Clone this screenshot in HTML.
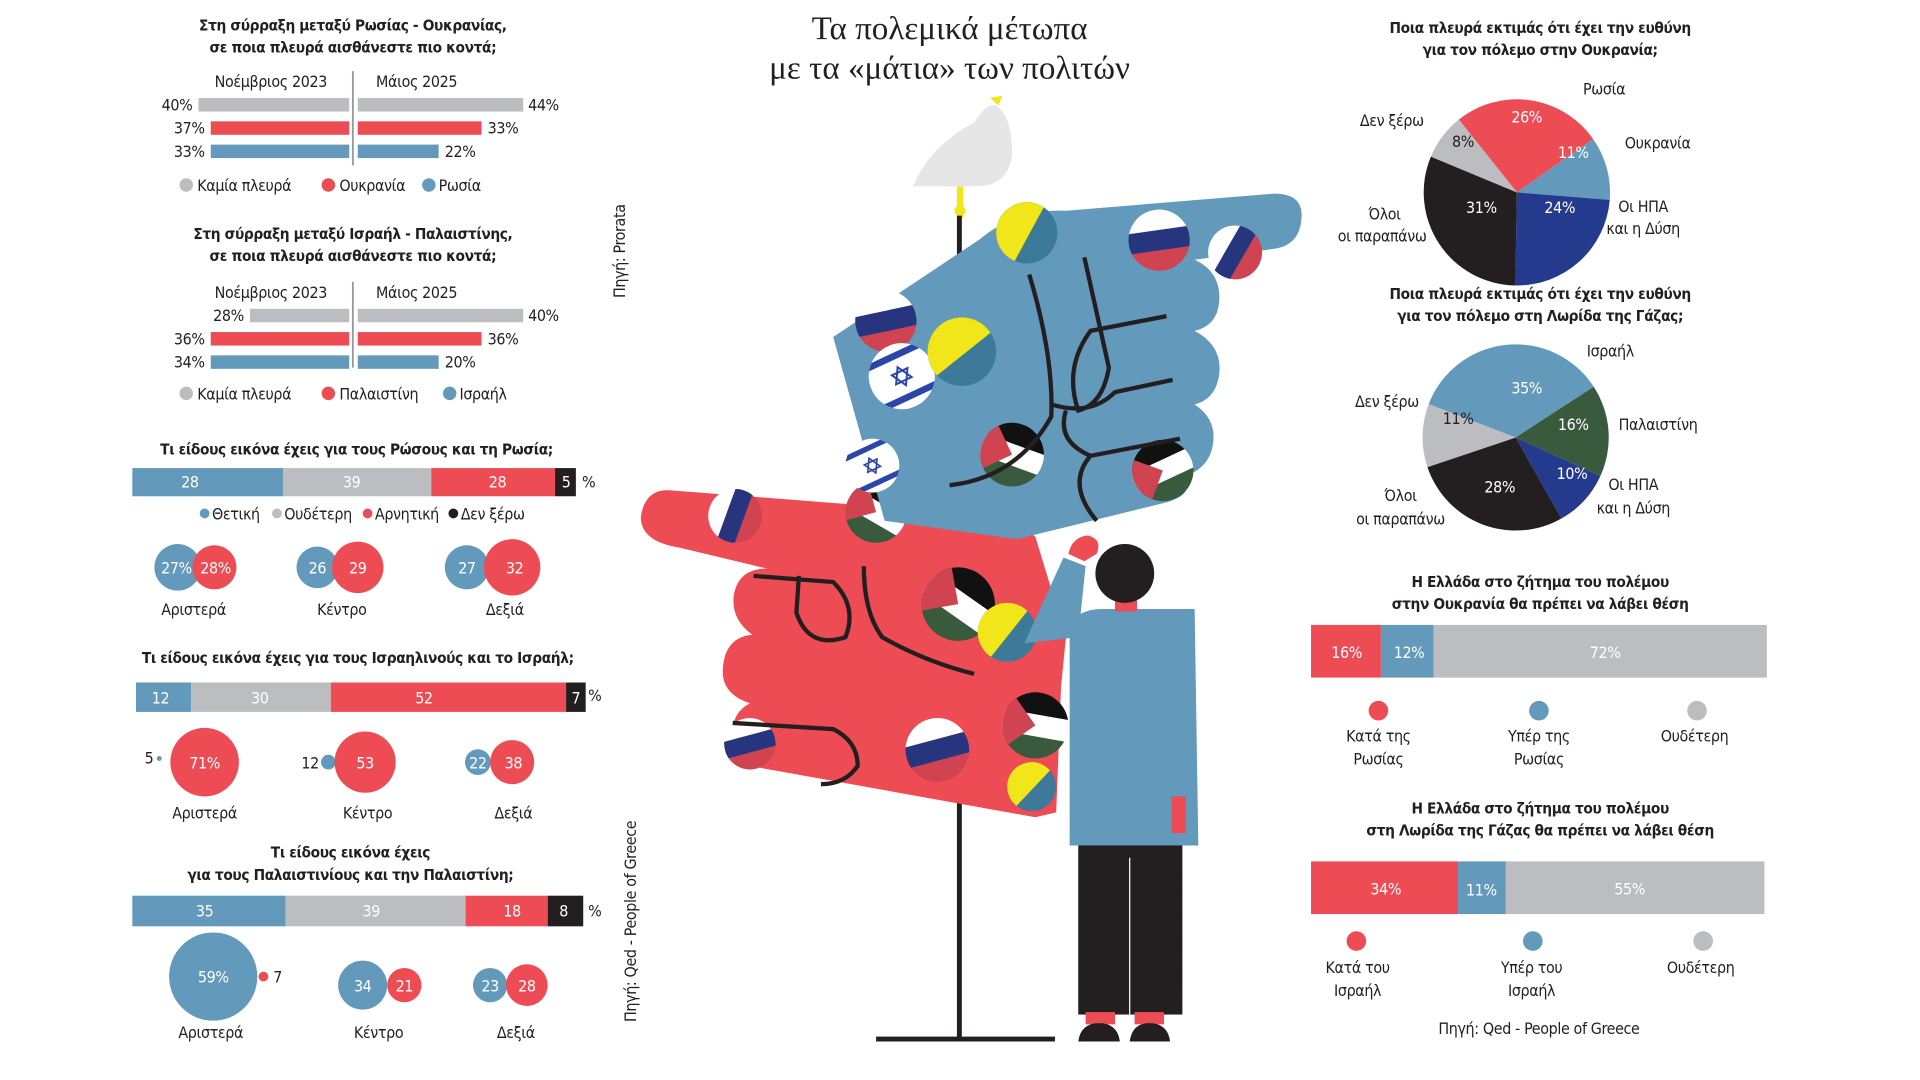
<!DOCTYPE html>
<html><head><meta charset="utf-8"><style>
html,body{margin:0;padding:0;background:#fff;width:1920px;height:1080px;overflow:hidden}
svg{display:block}
text{font-family:"Liberation Sans Narrow","DejaVu Sans Condensed","Liberation Sans",sans-serif;fill:#231f20}
.t{font-weight:bold;font-size:12.5px;text-anchor:middle;letter-spacing:-0.3px}
.l{font-size:13px;letter-spacing:-0.3px}
.c{text-anchor:middle}
.e{text-anchor:end}
.w{fill:#fff;font-size:13px;text-anchor:middle;letter-spacing:-0.3px}
</style></head><body>
<svg width="1920" height="1080" viewBox="0 0 1567 881.4" xmlns="http://www.w3.org/2000/svg">
<defs>
<clipPath id="cc" clipPathUnits="userSpaceOnUse"><circle cx="0" cy="0" r="1"/></clipPath>
<g id="ua"><rect x="-1" y="-1" width="2" height="2" fill="#3d7a99"/><polygon points="-1,0.4 1,-0.6 1,1 -1,1" fill="#f0e61a" transform="rotate(180)"/></g>
<g id="ru"><rect x="-1" y="-1" width="2" height="0.67" fill="#fff"/><rect x="-1" y="-0.33" width="2" height="0.67" fill="#27357e"/><rect x="-1" y="0.33" width="2" height="0.7" fill="#cf4450"/></g>
<g id="ps"><rect x="-1" y="-1" width="2" height="0.67" fill="#111"/><rect x="-1" y="-0.33" width="2" height="0.67" fill="#fff"/><rect x="-1" y="0.33" width="2" height="0.7" fill="#3a5a3e"/><polygon points="-1,-1 0,0 -1,1" fill="#cf4450"/></g>
<g id="il"><rect x="-1" y="-1" width="2" height="2" fill="#fff"/><rect x="-1" y="-0.75" width="2" height="0.2" fill="#2b45a8"/><rect x="-1" y="0.55" width="2" height="0.2" fill="#2b45a8"/><polygon points="0,-0.3 0.26,0.15 -0.26,0.15" fill="none" stroke="#2b45a8" stroke-width="0.06"/><polygon points="0,0.3 0.26,-0.15 -0.26,-0.15" fill="none" stroke="#2b45a8" stroke-width="0.06"/></g>
</defs>

<!-- LEFT COLUMN -->
<text class="t" x="288" y="25">Στη σύρραξη μεταξύ Ρωσίας - Ουκρανίας,</text>
<text class="t" x="288" y="43">σε ποια πλευρά αισθάνεστε πιο κοντά;</text>
<text class="l c" x="221" y="71">Νοέμβριος 2023</text><text class="l c" x="340" y="71">Μάιος 2025</text>
<line x1="288" y1="58" x2="288" y2="135" stroke="#999" stroke-width="1.5"/>
<rect x="162" y="80" width="123" height="11" fill="#bcbdc1"/><rect x="292" y="80" width="135" height="11" fill="#bcbdc1"/>
<rect x="172" y="99" width="113" height="11" fill="#ee4c55"/><rect x="292" y="99" width="101" height="11" fill="#ee4c55"/>
<rect x="172" y="118" width="113" height="11" fill="#6399bb"/><rect x="292" y="118" width="66" height="11" fill="#6399bb"/>
<text class="l e" x="157" y="90">40%</text><text class="l" x="431" y="90">44%</text>
<text class="l e" x="167" y="109">37%</text><text class="l" x="398" y="109">33%</text>
<text class="l e" x="167" y="128">33%</text><text class="l" x="363" y="128">22%</text>
<circle cx="152" cy="151" r="5.5" fill="#bcbdc1"/><text class="l" x="161" y="156">Καμία πλευρά</text>
<circle cx="268" cy="151" r="5.5" fill="#ee4c55"/><text class="l" x="277" y="156">Ουκρανία</text>
<circle cx="350" cy="151" r="5.5" fill="#6399bb"/><text class="l" x="358" y="156">Ρωσία</text>

<text class="t" x="288" y="195">Στη σύρραξη μεταξύ Ισραήλ - Παλαιστίνης,</text>
<text class="t" x="288" y="213">σε ποια πλευρά αισθάνεστε πιο κοντά;</text>
<text class="l c" x="221" y="243">Νοέμβριος 2023</text><text class="l c" x="340" y="243">Μάιος 2025</text>
<line x1="288" y1="230" x2="288" y2="300" stroke="#999" stroke-width="1.5"/>
<rect x="204" y="252" width="81" height="11" fill="#bcbdc1"/><rect x="292" y="252" width="135" height="11" fill="#bcbdc1"/>
<rect x="172" y="271" width="113" height="11" fill="#ee4c55"/><rect x="292" y="271" width="101" height="11" fill="#ee4c55"/>
<rect x="172" y="290" width="113" height="11" fill="#6399bb"/><rect x="292" y="290" width="66" height="11" fill="#6399bb"/>
<text class="l e" x="199" y="262">28%</text><text class="l" x="431" y="262">40%</text>
<text class="l e" x="167" y="281">36%</text><text class="l" x="398" y="281">36%</text>
<text class="l e" x="167" y="300">34%</text><text class="l" x="363" y="300">20%</text>
<circle cx="152" cy="321" r="5.5" fill="#bcbdc1"/><text class="l" x="161" y="326">Καμία πλευρά</text>
<circle cx="268" cy="321" r="5.5" fill="#ee4c55"/><text class="l" x="277" y="326">Παλαιστίνη</text>
<circle cx="367" cy="321" r="5.5" fill="#6399bb"/><text class="l" x="375" y="326">Ισραήλ</text>

<text class="t" x="291" y="371">Τι είδους εικόνα έχεις για τους Ρώσους και τη Ρωσία;</text>
<rect x="108" y="382" width="123" height="23" fill="#6399bb"/><rect x="231" y="382" width="121" height="23" fill="#bcbdc1"/><rect x="352" y="382" width="101" height="23" fill="#ee4c55"/><rect x="453" y="382" width="17" height="23" fill="#231f20"/>
<text class="w" x="155" y="398">28</text><text class="w" x="287" y="398">39</text><text class="w" x="406" y="398">28</text><text class="w" x="462" y="398">5</text><text class="l" x="475" y="398">%</text>
<circle cx="167" cy="419" r="4" fill="#6399bb"/><text class="l" x="173" y="424">Θετική</text>
<circle cx="226" cy="419" r="4" fill="#bcbdc1"/><text class="l" x="232" y="424">Ουδέτερη</text>
<circle cx="300" cy="419" r="4" fill="#ee4c55"/><text class="l" x="306" y="424">Αρνητική</text>
<circle cx="370" cy="419" r="4" fill="#231f20"/><text class="l" x="376" y="424">Δεν ξέρω</text>
<circle cx="145" cy="463" r="19" fill="#6399bb"/><circle cx="175" cy="463" r="18" fill="#ee4c55"/>
<text class="w" x="144" y="468">27%</text><text class="w" x="176" y="468">28%</text>
<circle cx="259" cy="463" r="17" fill="#6399bb"/><circle cx="292" cy="463" r="21" fill="#ee4c55"/>
<text class="w" x="259" y="468">26</text><text class="w" x="292" y="468">29</text>
<circle cx="381" cy="463" r="18" fill="#6399bb"/><circle cx="418" cy="463" r="23" fill="#ee4c55"/>
<text class="w" x="381" y="468">27</text><text class="w" x="420" y="468">32</text>
<text class="l c" x="158" y="502">Αριστερά</text><text class="l c" x="279" y="502">Κέντρο</text><text class="l c" x="412" y="502">Δεξιά</text>

<text class="t" x="292" y="541">Τι είδους εικόνα έχεις για τους Ισραηλινούς και το Ισραήλ;</text>
<rect x="111" y="557" width="45" height="24" fill="#6399bb"/><rect x="156" y="557" width="114" height="24" fill="#bcbdc1"/><rect x="270" y="557" width="192" height="24" fill="#ee4c55"/><rect x="462" y="557" width="16" height="24" fill="#231f20"/>
<text class="w" x="131" y="574">12</text><text class="w" x="212" y="574">30</text><text class="w" x="346" y="574">52</text><text class="w" x="470" y="574">7</text><text class="l" x="480" y="572">%</text>
<text class="l" x="118" y="623">5</text><circle cx="130" cy="619" r="2" fill="#6399bb"/>
<circle cx="167" cy="622" r="28" fill="#ee4c55"/><text class="w" x="167" y="627">71%</text>
<text class="l" x="246" y="627">12</text><circle cx="268" cy="622" r="6" fill="#6399bb"/>
<circle cx="298" cy="622" r="25" fill="#ee4c55"/><text class="w" x="298" y="627">53</text>
<circle cx="390" cy="622" r="10.5" fill="#6399bb"/><circle cx="418" cy="622" r="18" fill="#ee4c55"/>
<text class="w" x="390" y="627">22</text><text class="w" x="419" y="627">38</text>
<text class="l c" x="167" y="668">Αριστερά</text><text class="l c" x="300" y="668">Κέντρο</text><text class="l c" x="419" y="668">Δεξιά</text>

<text class="t" x="286" y="700">Τι είδους εικόνα έχεις</text>
<text class="t" x="286" y="718">για τους Παλαιστινίους και την Παλαιστίνη;</text>
<rect x="108" y="731" width="125" height="25" fill="#6399bb"/><rect x="233" y="731" width="147" height="25" fill="#bcbdc1"/><rect x="380" y="731" width="67" height="25" fill="#ee4c55"/><rect x="447" y="731" width="29" height="25" fill="#231f20"/>
<text class="w" x="167" y="748">35</text><text class="w" x="303" y="748">39</text><text class="w" x="418" y="748">18</text><text class="w" x="460" y="748">8</text><text class="l" x="480" y="748">%</text>
<circle cx="174" cy="797" r="36" fill="#6399bb"/><text class="w" x="174" y="802">59%</text>
<circle cx="215" cy="797" r="4" fill="#ee4c55"/><text class="l" x="223" y="802">7</text>
<circle cx="296" cy="804" r="20" fill="#6399bb"/><circle cx="330" cy="804" r="14" fill="#ee4c55"/>
<text class="w" x="296" y="809">34</text><text class="w" x="330" y="809">21</text>
<circle cx="400" cy="804" r="14" fill="#6399bb"/><circle cx="430" cy="804" r="17" fill="#ee4c55"/>
<text class="w" x="400" y="809">23</text><text class="w" x="430" y="809">28</text>
<text class="l c" x="172" y="847">Αριστερά</text><text class="l c" x="309" y="847">Κέντρο</text><text class="l c" x="421" y="847">Δεξιά</text>

<text class="l c" transform="translate(510,205) rotate(-90)">Πηγή: Prorata</text>
<text class="l c" transform="translate(519,752) rotate(-90)">Πηγή: Qed - People of Greece</text>

<!-- MIDDLE TITLE -->
<text x="775" y="32" style="font-family:'Liberation Serif','DejaVu Serif',serif;font-size:27px;text-anchor:middle">Τα πολεμικά μέτωπα</text>
<text x="775" y="64" style="font-family:'Liberation Serif','DejaVu Serif',serif;font-size:27px;text-anchor:middle">με τα «μάτια» των πολιτών</text>

<!-- ILLUSTRATION -->
<path d="M745,152 Q760,118 795,100 Q805,84 813,86 Q826,95 826,125 Q824,150 800,152 Z" fill="#e6e6e6"/>
<polygon points="808,80 818,78 815,86" fill="#f0e61a"/>
<rect x="781" y="152" width="5" height="26" fill="#f0e61a"/><circle cx="783.5" cy="172" r="4.5" fill="#f0e61a"/>
<rect x="781" y="176" width="4" height="672" fill="#231f20"/>
<rect x="715" y="846" width="146" height="4" fill="#231f20"/>

<path d="M545,400 L700,412 L790,396 L845,438 L870,520 L866,560 L862,663 L845,667 L628,628 Q600,624 598,603 Q596,582 612,574 Q588,566 590,545 Q592,520 614,518 Q596,505 599,485 Q603,464 626,464 L555,447 Q523,442 523,422 Q526,400 545,400 Z" fill="#ee4c55"/>
<g clip-path="url(#cc)" transform="translate(600,421) scale(22) rotate(-70)"><use href="#ru"/></g>
<g clip-path="url(#cc)" transform="translate(715,418) scale(25) rotate(30)"><use href="#ps"/></g>
<g clip-path="url(#cc)" transform="translate(782,493) scale(30) rotate(35)"><use href="#ps"/></g>
<g clip-path="url(#cc)" transform="translate(822,516) scale(24) rotate(-25)"><use href="#ua"/></g>
<g clip-path="url(#cc)" transform="translate(845,592) scale(27) rotate(10)"><use href="#ps"/></g>
<g clip-path="url(#cc)" transform="translate(612,607) scale(21) rotate(-15)"><use href="#ru"/></g>
<g clip-path="url(#cc)" transform="translate(765,612) scale(26) rotate(-15)"><use href="#ru"/></g>
<g clip-path="url(#cc)" transform="translate(842,642) scale(20) rotate(-20)"><use href="#ua"/></g>
<g fill="none" stroke="#231f20" stroke-width="3.5">
<path d="M615,470 L680,475 Q700,495 690,520 Q660,530 650,500 L652,470"/>
<path d="M705,462 Q705,500 720,520 Q755,540 795,550"/>
<path d="M598,590 L680,595 Q700,605 700,625 Q690,640 670,640"/>
</g>

<path d="M680,275 L800,195 Q830,170 870,172 L1040,158 Q1065,158 1062,180 Q1060,200 1040,203 L975,212 Q997,222 995,247 Q993,266 975,270 Q998,282 995,306 Q992,326 975,330 Q993,342 990,362 Q987,384 962,390 Q978,402 952,410 L830,440 L722,425 Z" fill="#6399bb"/>
<g clip-path="url(#cc)" transform="translate(838,190) scale(25) rotate(-35)"><use href="#ua"/></g>
<g clip-path="url(#cc)" transform="translate(946,196) scale(25) rotate(-8)"><use href="#ru"/></g>
<g clip-path="url(#cc)" transform="translate(1008,206) scale(22) rotate(-60)"><use href="#ru"/></g>
<g clip-path="url(#cc)" transform="translate(723,262) scale(25) rotate(-12)"><use href="#ru"/></g>
<g clip-path="url(#cc)" transform="translate(736,307) scale(27) rotate(-25)"><use href="#il"/></g>
<g clip-path="url(#cc)" transform="translate(785,287) scale(28) rotate(-12)"><use href="#ua"/></g>
<g clip-path="url(#cc)" transform="translate(826,371) scale(26) rotate(20)"><use href="#ps"/></g>
<g clip-path="url(#cc)" transform="translate(949,384) scale(25) rotate(-25)"><use href="#ps"/></g>
<g clip-path="url(#cc)" transform="translate(712,380) scale(22) rotate(-25)"><use href="#il"/></g>
<g fill="none" stroke="#231f20" stroke-width="3.5">
<path d="M840,224 Q860,290 858,340 Q830,390 775,396"/>
<path d="M885,210 L905,300 Q900,330 880,335 Q868,300 890,270 L952,258"/>
<path d="M858,330 Q890,340 910,320 L957,310"/>
<path d="M870,335 Q862,360 890,372 L963,358"/>
<path d="M890,372 Q870,395 895,425"/>
</g>

<path d="M873,510 Q880,497 900,497 L975,497 L978,690 L873,690 Z" fill="#6399bb"/>
<polygon points="836,525 868,455 886,462 880,520" fill="#6399bb"/>
<path d="M872,452 Q875,438 888,437 Q900,440 895,452 L885,458 Z" fill="#ee4c55"/>
<rect x="910" y="485" width="18" height="14" fill="#ee4c55"/>
<circle cx="918" cy="468" r="24" fill="#231f20"/>
<rect x="956" y="650" width="12" height="30" fill="#ee4c55"/>
<rect x="880" y="690" width="85" height="138" fill="#231f20"/>
<line x1="922" y1="700" x2="922" y2="828" stroke="#fff" stroke-width="1"/>
<rect x="886" y="826" width="24" height="10" fill="#ee4c55"/><rect x="926" y="826" width="24" height="10" fill="#ee4c55"/>
<path d="M880,850 Q882,835 897,835 Q912,835 914,850 Z" fill="#231f20"/>
<path d="M922,850 Q924,835 938,835 Q953,835 955,850 Z" fill="#231f20"/>
<text transform="translate(960,760) rotate(90)" style="font-size:6px" text-anchor="middle">INFOGRAPHIC: ΦΙΛΙΠΠΟΣ ΑΒΡΑΜΙΔΗΣ</text>

<!-- RIGHT COLUMN -->
<text class="t" x="1257" y="27">Ποια πλευρά εκτιμάς ότι έχει την ευθύνη</text>
<text class="t" x="1257" y="45">για τον πόλεμο στην Ουκρανία;</text>
<path d="M1238,157 L1190.6,97.6 A76,76 0 0 1 1300.2,113.4 Z" fill="#ee4c55"/>
<path d="M1238,157 L1300.2,113.4 A76,76 0 0 1 1313.8,163.1 Z" fill="#6399bb"/>
<path d="M1238,157 L1313.8,163.1 A76,76 0 0 1 1236.7,233 Z" fill="#243a8c"/>
<path d="M1238,157 L1236.7,233 A76,76 0 0 1 1167.8,127.8 Z" fill="#231f20"/>
<path d="M1238,157 L1167.8,127.8 A76,76 0 0 1 1190.6,97.6 Z" fill="#bcbdc1"/>
<text class="w" x="1246" y="100">26%</text><text class="l c" x="1194" y="120">8%</text><text class="w" x="1284" y="129">11%</text><text class="w" x="1209" y="174">31%</text><text class="w" x="1273" y="174">24%</text>
<text class="l" x="1292" y="77">Ρωσία</text><text class="l e" x="1162" y="103">Δεν ξέρω</text><text class="l" x="1326" y="121">Ουκρανία</text>
<text class="l c" x="1341" y="173">Οι ΗΠΑ</text><text class="l c" x="1341" y="191">και η Δύση</text>
<text class="l c" x="1130" y="179">Όλοι</text><text class="l c" x="1128" y="197">οι παραπάνω</text>

<text class="t" x="1257" y="244">Ποια πλευρά εκτιμάς ότι έχει την ευθύνη</text>
<text class="t" x="1257" y="262">για τον πόλεμο στη Λωρίδα της Γάζας;</text>
<path d="M1237,357 L1166,329.8 A76,76 0 0 1 1300.7,315.6 Z" fill="#6399bb"/>
<path d="M1237,357 L1300.7,315.6 A76,76 0 0 1 1306.1,388.6 Z" fill="#3a5a3e"/>
<path d="M1237,357 L1306.1,388.6 A76,76 0 0 1 1274.3,423.2 Z" fill="#243a8c"/>
<path d="M1237,357 L1274.3,423.2 A76,76 0 0 1 1165,381.2 Z" fill="#231f20"/>
<path d="M1237,357 L1165,381.2 A76,76 0 0 1 1166,329.8 Z" fill="#bcbdc1"/>
<text class="w" x="1246" y="321">35%</text><text class="l c" x="1190" y="346">11%</text><text class="w" x="1284" y="351">16%</text><text class="w" x="1283" y="391">10%</text><text class="w" x="1224" y="402">28%</text>
<text class="l" x="1295" y="291">Ισραήλ</text><text class="l e" x="1158" y="332">Δεν ξέρω</text><text class="l" x="1321" y="351">Παλαιστίνη</text>
<text class="l c" x="1333" y="400">Οι ΗΠΑ</text><text class="l c" x="1333" y="419">και η Δύση</text>
<text class="l c" x="1143" y="409">Όλοι</text><text class="l c" x="1143" y="428">οι παραπάνω</text>

<text class="t" x="1257" y="479">Η Ελλάδα στο ζήτημα του πολέμου</text>
<text class="t" x="1257" y="497">στην Ουκρανία θα πρέπει να λάβει θέση</text>
<rect x="1070" y="510" width="57" height="43" fill="#ee4c55"/><rect x="1127" y="510" width="43" height="43" fill="#6399bb"/><rect x="1170" y="510" width="272" height="43" fill="#bcbdc1"/>
<text class="w" x="1099" y="537">16%</text><text class="w" x="1150" y="537">12%</text><text class="w" x="1310" y="537">72%</text>
<circle cx="1125" cy="580" r="8" fill="#ee4c55"/><circle cx="1256" cy="580" r="8" fill="#6399bb"/><circle cx="1385" cy="580" r="8" fill="#bcbdc1"/>
<text class="l c" x="1125" y="605">Κατά της</text><text class="l c" x="1125" y="624">Ρωσίας</text>
<text class="l c" x="1256" y="605">Υπέρ της</text><text class="l c" x="1256" y="624">Ρωσίας</text>
<text class="l c" x="1383" y="605">Ουδέτερη</text>

<text class="t" x="1257" y="664">Η Ελλάδα στο ζήτημα του πολέμου</text>
<text class="t" x="1257" y="682">στη Λωρίδα της Γάζας θα πρέπει να λάβει θέση</text>
<rect x="1070" y="703" width="120" height="43" fill="#ee4c55"/><rect x="1190" y="703" width="39" height="43" fill="#6399bb"/><rect x="1229" y="703" width="211" height="43" fill="#bcbdc1"/>
<text class="w" x="1131" y="730">34%</text><text class="w" x="1209" y="731">11%</text><text class="w" x="1330" y="730">55%</text>
<circle cx="1107" cy="768" r="8" fill="#ee4c55"/><circle cx="1251" cy="768" r="8" fill="#6399bb"/><circle cx="1390" cy="768" r="8" fill="#bcbdc1"/>
<text class="l c" x="1108" y="794">Κατά του</text><text class="l c" x="1108" y="813">Ισραήλ</text>
<text class="l c" x="1250" y="794">Υπέρ του</text><text class="l c" x="1250" y="813">Ισραήλ</text>
<text class="l c" x="1388" y="794">Ουδέτερη</text>
<text class="l c" x="1256" y="844">Πηγή: Qed - People of Greece</text>
</svg>
</body></html>
